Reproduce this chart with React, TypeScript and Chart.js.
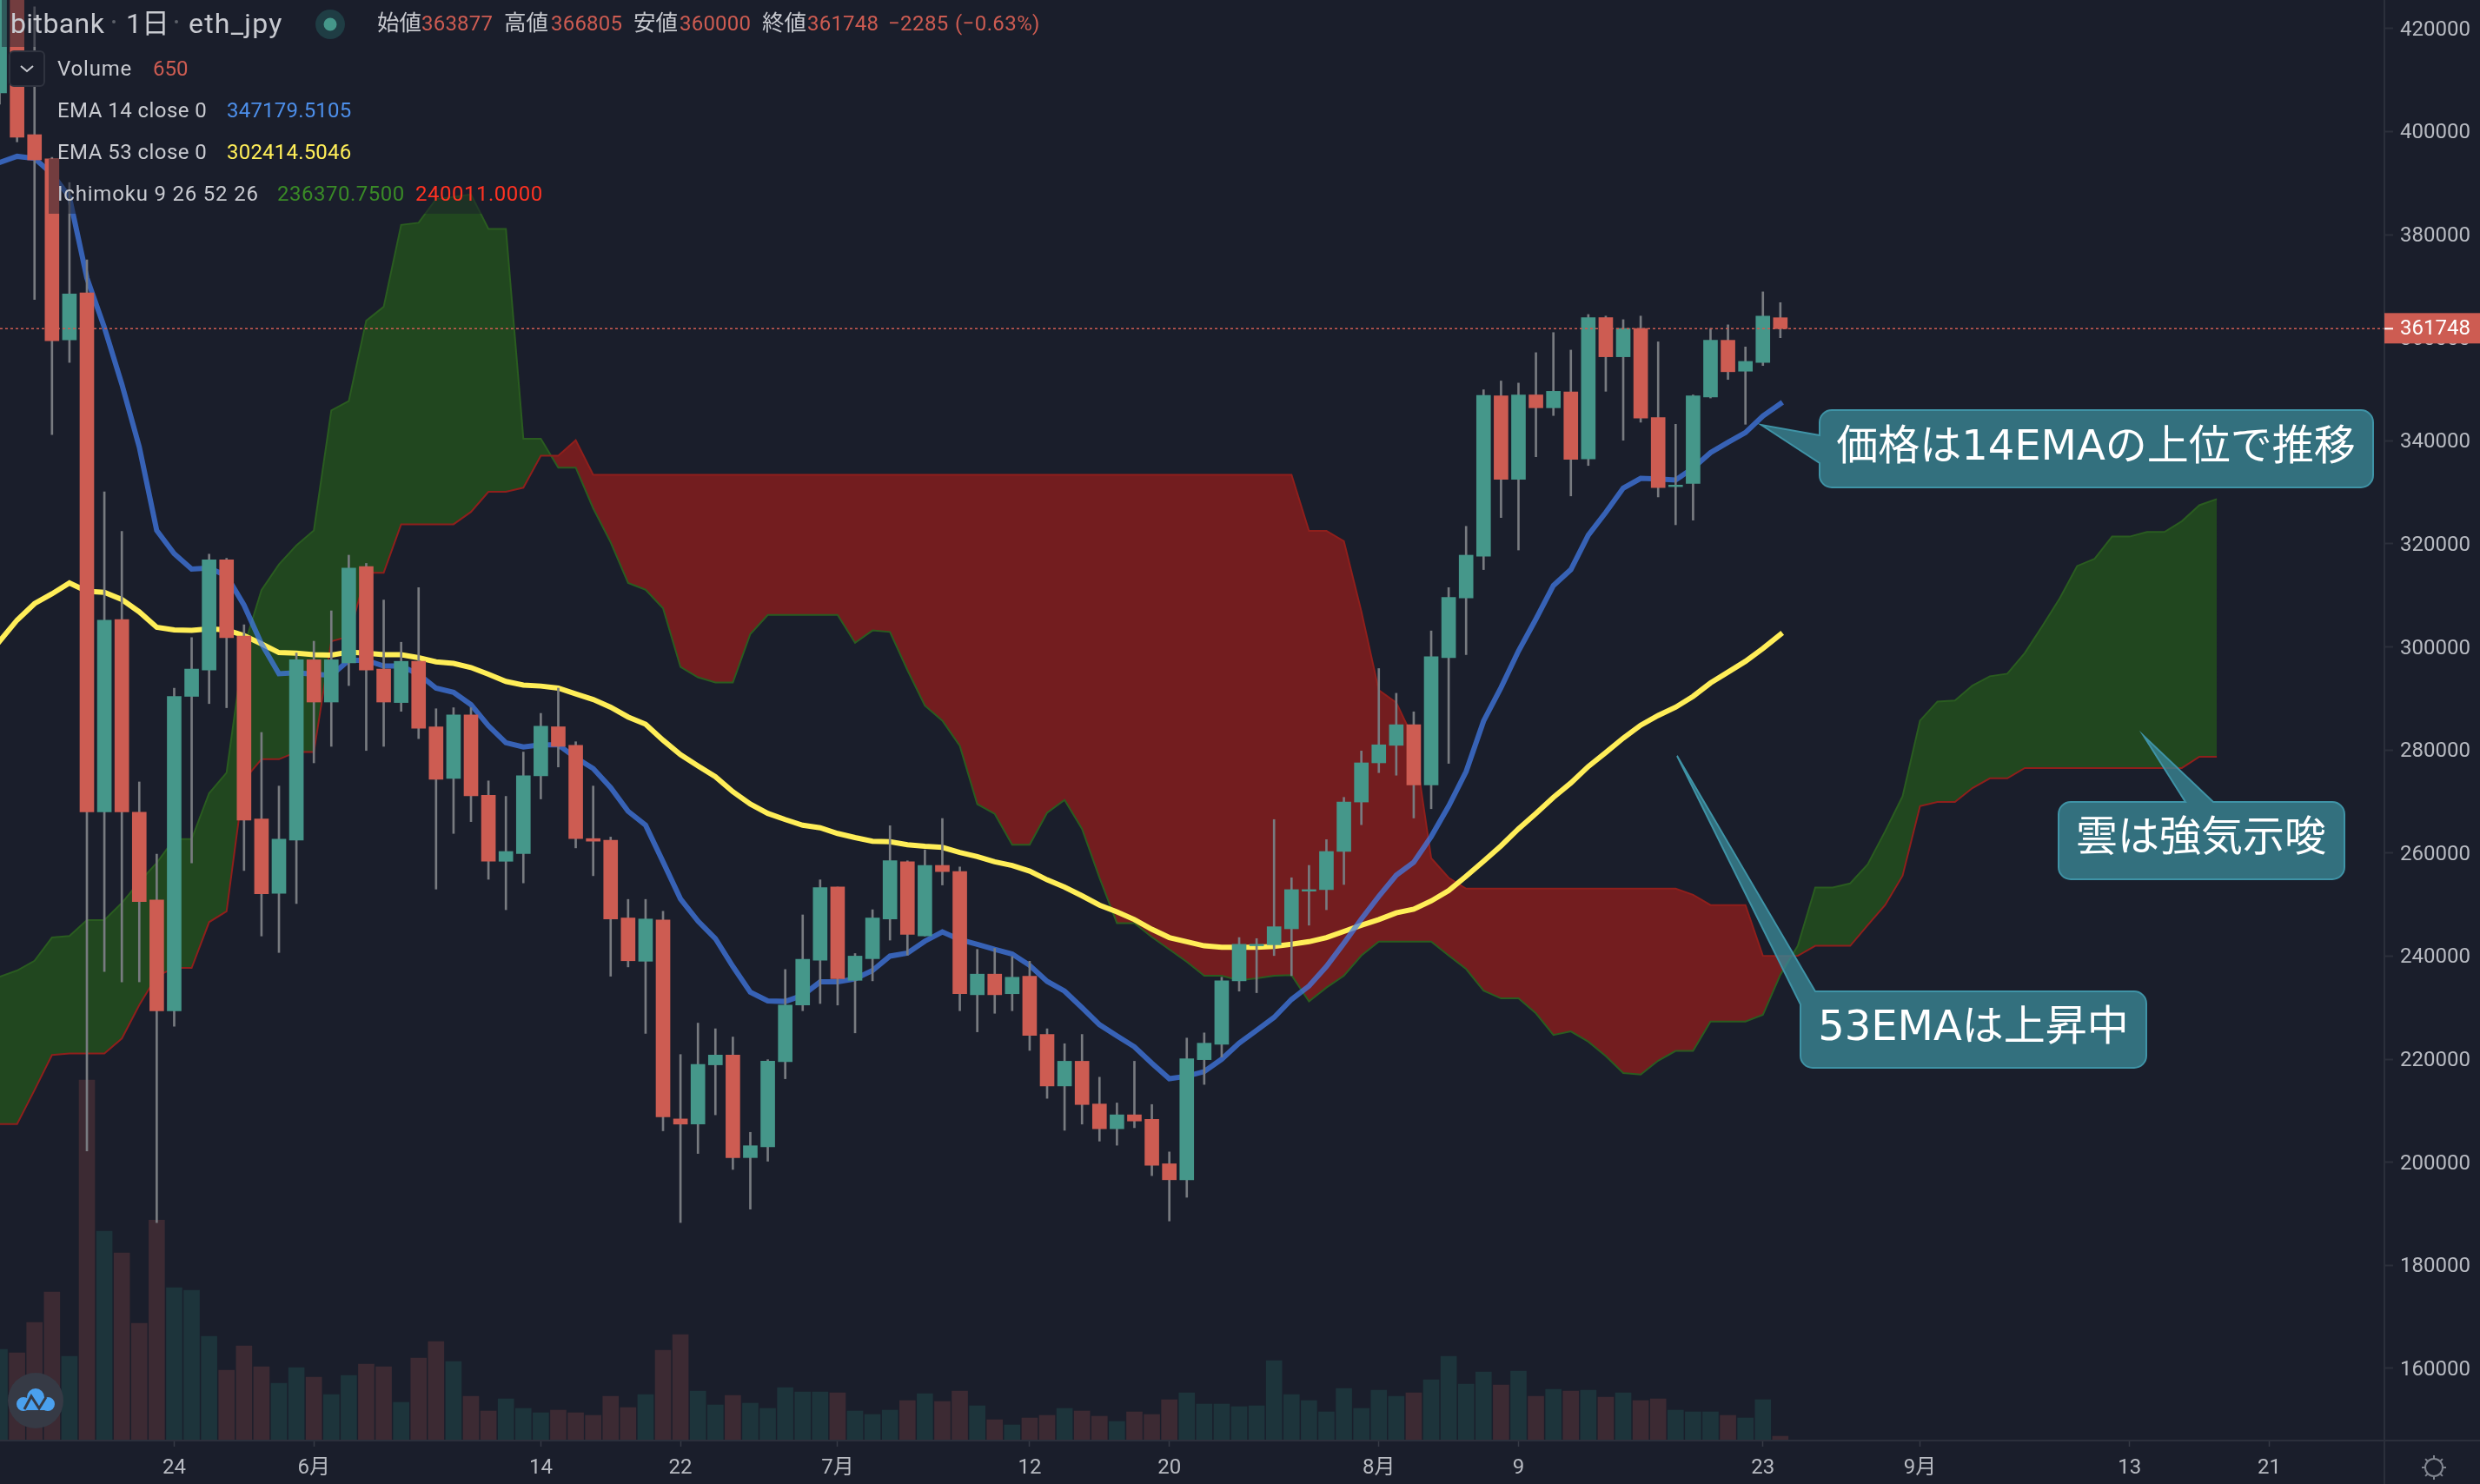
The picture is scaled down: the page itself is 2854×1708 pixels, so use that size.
import { useEffect, useRef } from "react"
import { Chart, registerables } from "chart.js"

Chart.register(...registerables)

// bitbank eth_jpy daily, one entry per day, first bar is partly off the left edge
const opens = [
  407500, 428000, 399400, 394700, 359600, 368700, 268000, 305300, 267900, 250900,
  229400, 290400, 295500, 316900, 302100, 266600, 252200, 262500, 297500, 289300,
  296900, 315600, 295700, 289200, 297200, 284500, 274500, 286800, 271200, 258400,
  259900, 275000, 284500, 280900, 262800, 262500, 247400, 239000, 247000, 208400,
  207400, 218900, 220800, 200900, 203000, 219500, 230500, 239200, 253400, 235300,
  239500, 247200, 258300, 243900, 257600, 256400, 232500, 236500, 232700, 236100,
  224800, 214800, 219600, 211300, 206500, 209200, 208300, 199700, 196600, 219900,
  222900, 235200, 242000, 242200, 245300, 252600, 252900, 260300, 269900, 277500,
  280900, 284900, 273200, 297900, 309500, 317600, 348700, 332500, 348900, 346400,
  349500, 336500, 363900, 356300, 361800, 344500, 331100, 331700, 348500, 359500,
  353500, 355200, 363877,
]
const closes = [
  428000, 398900, 394500, 359400, 368500, 268000, 305200, 268000, 250600, 229400,
  290400, 295700, 316900, 301800, 266400, 252100, 262700, 297500, 289300, 297500,
  315300, 295500, 289300, 297200, 284200, 274300, 286800, 271100, 258400, 260300,
  275000, 284600, 280700, 262800, 262300, 247200, 239100, 247200, 208800, 207400,
  219000, 220800, 200900, 203200, 219600, 230500, 239400, 253300, 235600, 240000,
  247400, 258500, 244200, 257600, 256400, 232700, 236500, 232500, 235900, 224600,
  214800, 219600, 211200, 206500, 209200, 208000, 199400, 196600, 220100, 223100,
  235200, 242300, 242300, 245700, 252900, 252900, 260300, 269900, 277500, 281000,
  284900, 273200, 298100, 309600, 317800, 348800, 332500, 348900, 346400, 349600,
  336400, 363900, 356300, 361800, 344400, 330900, 331400, 348700, 359500, 353400,
  355400, 364200, 361748,
]
const highs = [
  430000, 430000, 424200, 395000, 390100, 375100, 330100, 322400, 273800, 259800,
  292000, 301800, 318000, 317200, 304300, 283400, 273000, 298800, 301100, 307000,
  317800, 316200, 309100, 300900, 311500, 288000, 288200, 288200, 274000, 271000,
  279600, 287100, 292000, 281600, 273000, 263100, 251000, 251000, 248700, 220900,
  227000, 225900, 224300, 205800, 219900, 237400, 248000, 254800, 253400, 240500,
  249000, 265300, 258500, 260600, 266700, 257300, 241300, 241500, 239900, 239000,
  225900, 223000, 224800, 216500, 211500, 219600, 211200, 202000, 224100, 225100,
  235900, 243600, 243400, 266500, 255200, 257600, 262600, 270800, 279800, 295800,
  291000, 287400, 303100, 311500, 323400, 349900, 351600, 351200, 357100, 361000,
  357600, 364500, 364200, 363500, 364200, 359200, 343200, 348900, 361800, 362500,
  358200, 368900, 366805,
]
const lows = [
  405300, 398000, 367400, 341200, 355200, 202200, 237000, 235000, 235000, 188300,
  226400, 258100, 289000, 288200, 256600, 243900, 240700, 250200, 277500, 280700,
  292500, 279900, 280700, 287500, 282200, 253000, 263800, 266100, 254900, 249000,
  254200, 270500, 276700, 261000, 255600, 236100, 237900, 225000, 206100, 188300,
  201700, 209200, 198600, 190900, 200200, 216200, 229400, 230800, 230500, 225100,
  235200, 243100, 240200, 243900, 253800, 229400, 225300, 228900, 229400, 221700,
  212400, 206200, 207400, 204100, 203300, 206700, 197400, 188600, 193200, 215100,
  220400, 233200, 232900, 240100, 236200, 246000, 249000, 253900, 265500, 275600,
  275100, 266800, 268600, 277400, 298500, 315000, 325100, 318800, 336900, 344900,
  329300, 335200, 349600, 340100, 343600, 329100, 323700, 324600, 348300, 351900,
  343200, 354600, 360000,
]
const volumes = [
  13650, 13130, 17680, 22230, 12610, 53950, 31330, 28080, 17550, 32970,
  22880, 22490, 15600, 10530, 14170, 11050, 8580, 10920, 9490, 6890,
  9750, 11440, 11050, 5720, 12350, 14820, 11830, 6630, 4420, 6240,
  4810, 4160, 4550, 4160, 3770, 6630, 4940, 6890, 13520, 15860,
  7410, 5330, 6760, 5590, 4810, 7930, 7280, 7280, 7150, 4420,
  3900, 4550, 5980, 7020, 5850, 7410, 5200, 3120, 2340, 3380,
  3770, 4810, 4420, 3640, 2860, 4290, 3900, 6110, 7150, 5460,
  5460, 5070, 5200, 11960, 6890, 5980, 4290, 7800, 4810, 7540,
  6630, 7150, 9100, 12610, 8450, 10270, 8320, 10400, 6630, 7670,
  7410, 7540, 6500, 7150, 5980, 6240, 4550, 4290, 4290, 3770,
  3380, 6110, 650,
]
const ema14 = [
  394000, 395200, 394800, 391800, 387300, 371600, 362000, 351000, 338800, 322600,
  318100, 315100, 315300, 313800, 308100, 300600, 294800, 295000, 294700, 294500,
  297400, 297400, 296300, 296300, 294700, 292000, 291200, 288800, 284700, 281400,
  280600, 281000, 281000, 278500, 276400, 272700, 268100, 265400, 258300, 251100,
  246800, 243400, 238000, 233000, 231300, 231200, 232400, 235000, 235000, 235600,
  237200, 240000, 240600, 242900, 244700, 243200, 242300, 241300, 240400, 238200,
  235100, 233200, 230000, 226700, 224500, 222400, 219200, 216200, 216700, 217600,
  220000, 223100, 225600, 228100, 231600, 234200, 238000, 242500, 247200, 251600,
  255700, 258200, 263200, 269100, 275800, 285600, 292100, 299200, 305400, 311900,
  315000, 321700, 326100, 330800, 332700, 332600, 332400, 334700, 337700, 339700,
  341600, 344800, 347180,
]
const ema53 = [
  301100, 305200, 308400, 310300, 312400, 310800, 310600, 309200, 306800, 303800,
  303300, 303200, 303500, 303300, 302200, 300600, 298900, 298800, 298500, 298400,
  299000, 298800, 298500, 298500, 297900, 297100, 296800, 296000, 294700, 293300,
  292600, 292400, 292000, 290900, 289800, 288300, 286400, 285000, 281900, 279100,
  276900, 274800, 271900, 269500, 267700, 266500, 265400, 264900, 263800, 263000,
  262300, 262200, 261600, 261300, 261100, 260100, 259300, 258300, 257600, 256500,
  254800, 253400, 251700, 249900, 248600, 247100, 245200, 243600, 242800, 242000,
  241700, 241700, 241700, 241900, 242300, 242800, 243600, 244800, 246000, 247100,
  248400, 249100, 250700, 252700, 255500, 258400, 261400, 264700, 267700, 270800,
  273600, 276800, 279500, 282300, 284800, 286700, 288300, 290400, 293000, 295100,
  297200, 299700, 302415,
]
// leading span runs 26 days past the last candle
const spanA = [
  236000, 237200, 239100, 243600, 243900, 247000, 247000, 250300, 254400, 258100,
  262700, 262700, 271600, 275600, 300000, 311000, 316000, 319700, 322600, 345900,
  347700, 363300, 366000, 381900, 382300, 386900, 387300, 387800, 381100, 381100,
  340400, 340400, 334800, 334800, 326900, 320300, 312400, 311100, 307500, 296100,
  294100, 293100, 293100, 302500, 306200, 306200, 306200, 306200, 306200, 300800,
  303200, 302900, 295500, 288600, 285700, 280800, 269500, 267600, 261600, 261600,
  267800, 270300, 264700, 255200, 246400, 246400, 243700, 241300, 238900, 236200,
  236200, 235300, 235700, 236200, 236300, 231200, 233900, 236200, 240100, 242800,
  242800, 242800, 242800, 240100, 237500, 233300, 231800, 231800, 228900, 224700,
  225400, 223400, 220600, 217300, 217000, 219700, 221600, 221600, 227300, 227300,
  227300, 228600, 236370, 242000, 253300, 253300, 254100, 257800, 264200, 271000,
  285700, 289400, 289600, 292500, 294300, 294800, 298800, 304000, 309400, 315700,
  317100, 321400, 321400, 322300, 322300, 324400, 327500, 328700,
]
const spanB = [
  207400, 207400, 214000, 220800, 221100, 221100, 221100, 224000, 230500, 236100,
  237700, 237700, 246600, 248700, 274200, 278200, 278200, 279600, 279600, 301100,
  302000, 314400, 314400, 323800, 323800, 323800, 323800, 326200, 330100, 330100,
  330900, 337100, 337100, 340100, 333400, 333400, 333400, 333400, 333400, 333400,
  333400, 333400, 333400, 333400, 333400, 333400, 333400, 333400, 333400, 333400,
  333400, 333400, 333400, 333400, 333400, 333400, 333400, 333400, 333400, 333400,
  333400, 333400, 333400, 333400, 333400, 333400, 333400, 333400, 333400, 333400,
  333400, 333400, 333400, 333400, 333400, 322500, 322500, 320500, 306900, 291600,
  289200, 282100, 259000, 255200, 253100, 253100, 253100, 253100, 253100, 253100,
  253100, 253100, 253100, 253100, 253100, 253100, 253100, 251900, 249900, 249900,
  249900, 240050, 240011, 240050, 242000, 242000, 242000, 246000, 249900, 255600,
  269100, 269900, 269900, 272600, 274500, 274500, 276500, 276500, 276500, 276500,
  276500, 276500, 276500, 276500, 276500, 276500, 278700, 278700,
]

const lastPrice = 361748
const priceTicks = [
  160000, 180000, 200000, 220000, 240000, 260000, 280000, 300000, 320000, 340000,
  360000, 380000, 400000, 420000,
]
const timeTicks = [10, 18, 31, 39, 48, 59, 67, 79, 87, 101, 110, 122, 130]
const timeLabels = ["24", "6月", "14", "22", "7月", "12", "20", "8月", "9", "23", "9月", "13", "21"]

const BG = "#1a1e2b"
const UP = "#45978a"
const DOWN = "#cd5c52"
const TEXT = "#c8cad0"
const UI_FONT = 'Roboto, "Noto Sans CJK JP"'
const NOTE_FONT = '"DejaVu Sans", "Noto Sans CJK JP"'

// speech bubbles, drawn as one outline so the tail has no seam
const notes = [
  {
    text: "価格は14EMAの上位で推移",
    cx: 2412,
    cy: 517,
    outline: [
      [2094, 472, 14], [2731, 472, 14], [2731, 561, 14], [2094, 561, 14],
      [2094, 533, 0], [2027, 489, 0], [2094, 501, 0],
    ],
  },
  {
    text: "雲は強気示唆",
    cx: 2533,
    cy: 967,
    outline: [
      [2369, 923, 14], [2515, 923, 0], [2467, 847, 0], [2547, 923, 0],
      [2698, 923, 14], [2698, 1012, 14], [2369, 1012, 14],
    ],
  },
  {
    text: "53EMAは上昇中",
    cx: 2271,
    cy: 1185,
    outline: [
      [2089, 1141, 0], [2470, 1141, 14], [2470, 1229, 14], [2072, 1229, 14],
      [2072, 1156, 0], [1930, 870, 0],
    ],
  },
]

const toSeries = (values: number[]) => values.map((y, x) => ({ x, y }))

function drawOutline(ctx: CanvasRenderingContext2D, pts: number[][]) {
  const n = pts.length
  const start = [(pts[n - 1][0] + pts[0][0]) / 2, (pts[n - 1][1] + pts[0][1]) / 2]
  ctx.beginPath()
  ctx.moveTo(start[0], start[1])
  pts.forEach((p, i) => {
    const next = pts[(i + 1) % n]
    if (p[2] > 0) ctx.arcTo(p[0], p[1], next[0], next[1], p[2])
    else ctx.lineTo(p[0], p[1])
  })
  ctx.closePath()
}

const put = (
  ctx: CanvasRenderingContext2D,
  text: string,
  x: number,
  y: number,
  color: string,
  size = 24,
  spacing = 0,
) => {
  ctx.font = `${size}px ${UI_FONT}`
  ctx.letterSpacing = `${spacing}px`
  ctx.fillStyle = color
  ctx.textAlign = "left"
  ctx.textBaseline = "middle"
  ctx.fillText(text, x, y)
  ctx.letterSpacing = "0px"
}

// scale padding would push the plot away from the canvas edges
const dropPadding = (scale: any) => {
  scale.paddingTop = 0
  scale.paddingBottom = 0
  scale.paddingLeft = 0
  scale.paddingRight = 0
}

const chrome = {
  id: "chrome",
  afterDraw(chart: Chart) {
    const { ctx, chartArea, scales } = chart
    const y = scales.y.getPixelForValue(lastPrice)
    ctx.save()

    // last price line
    ctx.strokeStyle = DOWN
    ctx.lineWidth = 1.5
    ctx.setLineDash([3, 3])
    ctx.beginPath()
    ctx.moveTo(chartArea.left, y)
    ctx.lineTo(chartArea.right, y)
    ctx.stroke()
    ctx.setLineDash([])

    // legend row shades
    ctx.fillStyle = "rgba(26,30,43,0.5)"
    ctx.fillRect(2, 0, 1215, 54)
    ctx.fillRect(56, 183, 570, 63)

    // axis frame
    ctx.strokeStyle = "#2b2f3b"
    ctx.lineWidth = 2
    ctx.beginPath()
    ctx.moveTo(0, chartArea.bottom)
    ctx.lineTo(2854, chartArea.bottom)
    ctx.moveTo(chartArea.right, 0)
    ctx.lineTo(chartArea.right, 1708)
    ctx.stroke()

    // last price tag
    ctx.fillStyle = DOWN
    ctx.fillRect(chartArea.right, y - 18, 110, 35)
    ctx.fillStyle = "#ffffff"
    ctx.fillRect(chartArea.right, y - 1, 10, 2)
    put(ctx, String(lastPrice), 2762, y + 1, "#ffffff")

    // header
    put(ctx, "bitbank", 12, 30, TEXT, 32, 0.4)
    put(ctx, "1日", 145, 30, TEXT, 32)
    put(ctx, "eth_jpy", 217, 30, TEXT, 32, 1.2)
    ctx.fillStyle = "#5c6069"
    ctx.beginPath()
    ctx.arc(131, 25, 2, 0, Math.PI * 2)
    ctx.arc(203, 25, 2, 0, Math.PI * 2)
    ctx.fill()
    ctx.fillStyle = "#1f3d44"
    ctx.beginPath()
    ctx.arc(380, 28, 17, 0, Math.PI * 2)
    ctx.fill()
    ctx.fillStyle = UP
    ctx.beginPath()
    ctx.arc(380, 28, 7.5, 0, Math.PI * 2)
    ctx.fill()

    const ohlc: [string, number, string, number][] = [
      ["始値", 434, "363877", 485],
      ["高値", 580, "366805", 634],
      ["安値", 729, "360000", 782],
      ["終値", 877, "361748", 929],
    ]
    ohlc.forEach(([name, nx, value, vx]) => {
      put(ctx, name, nx, 29, TEXT, 25.5)
      put(ctx, value, vx, 29, DOWN, 24, 0.2)
    })
    put(ctx, "−2285", 1022, 29, DOWN, 24, 0.4)
    put(ctx, "(−0.63%)", 1099, 29, DOWN, 24, 0.4)

    // collapse button
    ctx.fillStyle = BG
    ctx.strokeStyle = "#2f333f"
    ctx.beginPath()
    ctx.roundRect(11, 59, 40, 40, 5)
    ctx.fill()
    ctx.stroke()
    ctx.strokeStyle = TEXT
    ctx.beginPath()
    ctx.moveTo(24, 76)
    ctx.lineTo(31, 82)
    ctx.lineTo(38, 76)
    ctx.stroke()

    // indicator rows
    put(ctx, "Volume", 66, 81, TEXT, 24, 0.8)
    put(ctx, "650", 176, 81, DOWN)
    put(ctx, "EMA 14 close 0", 66, 129, TEXT, 24, 0.45)
    put(ctx, "347179.5105", 261, 129, "#4d8fea", 24, 0.2)
    put(ctx, "EMA 53 close 0", 66, 177, TEXT, 24, 0.45)
    put(ctx, "302414.5046", 261, 177, "#ffee58", 24, 0.2)
    put(ctx, "Ichimoku 9 26 52 26", 66, 225, TEXT, 24, 0.8)
    put(ctx, "236370.7500", 319, 225, "#3a8a27", 24, 0.5)
    put(ctx, "240011.0000", 478, 225, "#ff3322", 24, 0.5)

    // logo badge
    ctx.fillStyle = "#363a45"
    ctx.beginPath()
    ctx.arc(41, 1612, 32, 0, Math.PI * 2)
    ctx.fill()
    ctx.fillStyle = "#4aa0ee"
    ctx.beginPath()
    ctx.arc(27, 1616, 8, 0, Math.PI * 2)
    ctx.arc(41, 1608, 10, 0, Math.PI * 2)
    ctx.arc(55, 1616, 8, 0, Math.PI * 2)
    ctx.rect(27, 1612, 28, 11)
    ctx.fill()
    ctx.strokeStyle = "#363a45"
    ctx.lineWidth = 3
    ctx.beginPath()
    ctx.moveTo(28, 1622)
    ctx.lineTo(36, 1607)
    ctx.lineTo(45, 1621)
    ctx.lineTo(53, 1608)
    ctx.stroke()

    // settings gear
    ctx.strokeStyle = "#80858f"
    ctx.lineWidth = 2
    ctx.beginPath()
    ctx.arc(2801, 1689, 10, 0, Math.PI * 2)
    for (let k = 0; k < 8; k++) {
      const a = (k * Math.PI) / 4
      ctx.moveTo(2801 + 10 * Math.cos(a), 1689 + 10 * Math.sin(a))
      ctx.lineTo(2801 + 14 * Math.cos(a), 1689 + 14 * Math.sin(a))
    }
    ctx.stroke()

    // notes
    notes.forEach((note) => {
      drawOutline(ctx, note.outline)
      ctx.fillStyle = "rgba(57,132,148,0.8)"
      ctx.fill()
      ctx.strokeStyle = "#3f93a6"
      ctx.lineWidth = 2
      ctx.stroke()
      ctx.font = `48px ${NOTE_FONT}`
      ctx.fillStyle = "#ffffff"
      ctx.textAlign = "center"
      ctx.textBaseline = "middle"
      ctx.fillText(note.text, note.cx, note.cy)
    })
    ctx.restore()
  },
}

export default function App() {
  const chartRef = useRef<HTMLCanvasElement>(null)

  useEffect(() => {
    if (!chartRef.current) return
    const candleColors = closes.map((c, i) => (c >= opens[i] ? UP : DOWN))
    const volumeColors = closes.map((c, i) => (c >= opens[i] ? "#1d343b" : "#3c2a33"))

    const chart = new Chart(chartRef.current, {
      type: "bar",
      data: {
        datasets: [
          {
            type: "bar",
            order: 1,
            data: opens.map((o, x) => ({ x, y: [o, closes[x]] })),
            backgroundColor: candleColors,
            barThickness: 16,
            grouped: false,
          },
          {
            type: "bar",
            order: 2,
            data: lows.map((l, x) => ({ x, y: [l, highs[x]] })),
            backgroundColor: "#787b80",
            barThickness: 2,
            grouped: false,
          },
          {
            type: "line",
            order: 3,
            data: toSeries(ema14),
            borderColor: "rgba(66,125,235,0.72)",
            borderWidth: 6,
            borderCapStyle: "square",
            pointRadius: 0,
            tension: 0,
          },
          {
            type: "line",
            order: 4,
            data: toSeries(ema53),
            borderColor: "#ffee58",
            borderWidth: 6,
            borderCapStyle: "square",
            pointRadius: 0,
            tension: 0,
          },
          {
            type: "line",
            order: 5,
            data: toSeries(spanB),
            borderColor: "#8f1f1c",
            borderWidth: 2,
            pointRadius: 0,
            tension: 0,
          },
          {
            type: "line",
            order: 6,
            data: toSeries(spanA),
            borderColor: "#2a5c20",
            borderWidth: 2,
            pointRadius: 0,
            tension: 0,
            fill: { target: 4, above: "#21471f", below: "#731d1f" },
          },
          {
            type: "bar",
            order: 7,
            yAxisID: "volume",
            data: toSeries(volumes),
            backgroundColor: volumeColors,
            barThickness: 18,
            grouped: false,
          },
        ],
      },
      options: {
        responsive: false,
        devicePixelRatio: 1,
        animation: false,
        events: [],
        layout: { padding: 0 },
        plugins: {
          legend: { display: false },
          tooltip: { enabled: false },
          filler: { propagate: false },
        },
        scales: {
          x: {
            type: "linear",
            min: 0.0224,
            max: 136.6,
            offset: false,
            border: { display: false },
            grid: { offset: false, drawOnChartArea: false, tickLength: 7, tickColor: "#363a45", tickWidth: 1.5 },
            afterBuildTicks: (scale) => {
              scale.ticks = timeTicks.map((value) => ({ value }))
            },
            afterFit: (scale) => {
              scale.height = 50
              dropPadding(scale)
            },
            ticks: {
              autoSkip: false,
              maxRotation: 0,
              padding: 11,
              color: "#b8bbc2",
              font: { family: UI_FONT, size: 24 },
              callback: (value) => timeLabels[timeTicks.indexOf(value as number)] ?? "",
            },
          },
          y: {
            position: "right",
            min: 145993,
            max: 425531,
            border: { display: false },
            grid: { drawOnChartArea: false, tickLength: 10, tickColor: "#2b2f3b", tickWidth: 2 },
            afterBuildTicks: (scale) => {
              scale.ticks = priceTicks.map((value) => ({ value }))
            },
            afterFit: (scale) => {
              scale.width = 110
              dropPadding(scale)
            },
            ticks: {
              padding: 8,
              labelOffset: 2,
              color: "#b8bbc2",
              font: { family: UI_FONT, size: 24 },
              callback: (value) => String(value),
            },
          },
          volume: {
            display: false,
            position: "left",
            min: 0,
            max: 215540,
          },
        },
      },
      plugins: [chrome],
    })

    return () => {
      chart.destroy()
    }
  }, [])

  return (
    <div style={{ position: "absolute", left: 0, top: 0, width: 2854, height: 1708, background: BG }}>
      <canvas ref={chartRef} width={2854} height={1708} style={{ display: "block" }} />
    </div>
  )
}
